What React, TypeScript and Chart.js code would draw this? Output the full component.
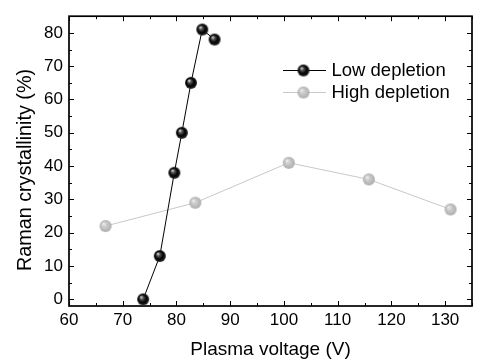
import React, { useEffect, useRef } from 'react';
import { Chart, registerables } from 'chart.js';

Chart.register(...registerables);

const lowVoltage = [73.8, 76.9, 79.6, 81.0, 82.7, 84.8, 87.1];
const lowCrystallinity = [0, 13, 38, 50, 65, 81, 78];
const highVoltage = [66.8, 83.5, 100.9, 115.8, 131.0];
const highCrystallinity = [22, 29, 41, 36, 27];
const xTickValues = [60, 70, 80, 90, 100, 110, 120, 130];
const yTickValues = [0, 10, 20, 30, 40, 50, 60, 70, 80];
const seriesNames = ['Low depletion', 'High depletion'];
const xTitle = 'Plasma voltage (V)';
const yTitle = 'Raman crystallinity (%)';

const FONT = '"Liberation Sans", Arial, sans-serif';

function makeBall(stops: [number, string][], r: number): HTMLCanvasElement {
  const size = r * 2 + 2;
  const c = document.createElement('canvas');
  c.width = size;
  c.height = size;
  const g = c.getContext('2d')!;
  const cx = size / 2;
  const cy = size / 2;
  const grad = g.createRadialGradient(cx - r * 0.35, cy - r * 0.4, 0, cx, cy, r);
  stops.forEach(([o, col]) => grad.addColorStop(o, col));
  g.fillStyle = grad;
  g.beginPath();
  g.arc(cx, cy, r, 0, Math.PI * 2);
  g.fill();
  return c;
}

export default function App() {
  const ref = useRef<HTMLCanvasElement | null>(null);

  useEffect(() => {
    document.body.style.margin = '0';
    const blackBall = makeBall(
      [
        [0, '#ffffff'],
        [0.28, '#5a5a5a'],
        [0.65, '#000000'],
        [1, '#2a2a2a'],
      ],
      6
    );
    const grayBall = makeBall(
      [
        [0, '#f6f6f6'],
        [0.35, '#cfcfcf'],
        [0.8, '#b8b8b8'],
        [1, '#a8a8a8'],
      ],
      6
    );

    const framePlugin = {
      id: 'frame',
      beforeDatasetsDraw(chart: any) {
        const { ctx, chartArea: a, scales } = chart;
        const xs = scales.x;
        const ys = scales.y;
        ctx.save();
        ctx.strokeStyle = '#000';
        ctx.lineWidth = 1;
        for (let v = 60; v <= 135; v += 5) {
          const px = Math.round(xs.getPixelForValue(v)) + 0.5;
          const len = v % 10 === 0 ? 5 : 3;
          ctx.beginPath();
          ctx.moveTo(px, a.bottom);
          ctx.lineTo(px, a.bottom - len);
          ctx.moveTo(px, a.top);
          ctx.lineTo(px, a.top + len);
          ctx.stroke();
        }
        for (let v = 0; v <= 85; v += 5) {
          const py = Math.round(ys.getPixelForValue(v)) + 0.5;
          const len = v % 10 === 0 ? 5 : 3;
          ctx.beginPath();
          ctx.moveTo(a.left, py);
          ctx.lineTo(a.left + len, py);
          ctx.moveTo(a.right, py);
          ctx.lineTo(a.right - len, py);
          ctx.stroke();
        }
        ctx.lineWidth = 1.7;
        ctx.strokeRect(a.left, a.top, a.right - a.left, a.bottom - a.top);

        // axis titles
        ctx.fillStyle = '#000';
        ctx.textAlign = 'center';
        ctx.textBaseline = 'alphabetic';
        ctx.font = `19px ${FONT}`;
        ctx.fillText(xTitle, (a.left + a.right) / 2, 355);
        ctx.save();
        ctx.font = `19.8px ${FONT}`;
        ctx.translate(31, 170);
        ctx.rotate(-Math.PI / 2);
        ctx.fillText(yTitle, 0, 0);
        ctx.restore();
        ctx.restore();
      },
      afterDatasetsDraw(chart: any) {
        const { ctx } = chart;
        ctx.save();
        const rows = [
          { y: 70, color: '#000000', img: blackBall, lw: 1 },
          { y: 92, color: '#c8c8c8', img: grayBall, lw: 1 },
        ];
        rows.forEach((r, i) => {
          ctx.strokeStyle = r.color;
          ctx.lineWidth = r.lw;
          ctx.beginPath();
          ctx.moveTo(283, r.y + 0.5);
          ctx.lineTo(326, r.y + 0.5);
          ctx.stroke();
          ctx.drawImage(r.img, 303.5 - r.img.width / 2, r.y + 0.5 - r.img.height / 2);
          ctx.fillStyle = '#000';
          ctx.font = `18.5px ${FONT}`;
          ctx.textAlign = 'left';
          ctx.textBaseline = 'middle';
          ctx.fillText(seriesNames[i], 331.5, r.y + 1);
        });
        ctx.restore();
      },
    };

    const chart = new Chart(ref.current!, {
      type: 'line',
      data: {
        datasets: [
          {
            label: seriesNames[0],
            data: lowVoltage.map((x, i) => ({ x, y: lowCrystallinity[i] })),
            borderColor: '#000000',
            borderWidth: 1,
            pointStyle: blackBall,
            pointRadius: 6,
            tension: 0,
            fill: false,
          },
          {
            label: seriesNames[1],
            data: highVoltage.map((x, i) => ({ x, y: highCrystallinity[i] })),
            borderColor: '#c8c8c8',
            borderWidth: 1,
            pointStyle: grayBall,
            pointRadius: 6,
            tension: 0,
            fill: false,
          },
        ],
      },
      options: {
        animation: false,
        responsive: false,
        devicePixelRatio: 1,
        layout: { padding: { top: 5, right: 2, left: 0, bottom: 0 } },
        plugins: {
          legend: { display: false },
          tooltip: { enabled: false },
        },
        scales: {
          x: {
            type: 'linear',
            min: 60,
            max: 135,
            afterBuildTicks: (s: any) => {
              s.ticks = xTickValues.map((v) => ({ value: v }));
            },
            afterFit: (s: any) => {
              s.height = 56;
            },
            grid: { display: false, drawTicks: false },
            border: { display: false },
            ticks: {
              padding: 4,
              color: '#000',
              font: { family: FONT, size: 17 },
              maxRotation: 0,
            },
          },
          y: {
            type: 'linear',
            min: -2,
            max: 85,
            afterBuildTicks: (s: any) => {
              s.ticks = yTickValues.map((v) => ({ value: v }));
            },
            afterFit: (s: any) => {
              s.width = 69;
            },
            grid: { display: false, drawTicks: false },
            border: { display: false },
            ticks: {
              padding: 6,
              color: '#000',
              font: { family: FONT, size: 17 },
            },
          },
        },
      },
      plugins: [framePlugin],
    });
    return () => chart.destroy();
  }, []);

  return <canvas ref={ref} width={479} height={362} style={{ display: 'block' }} />;
}
